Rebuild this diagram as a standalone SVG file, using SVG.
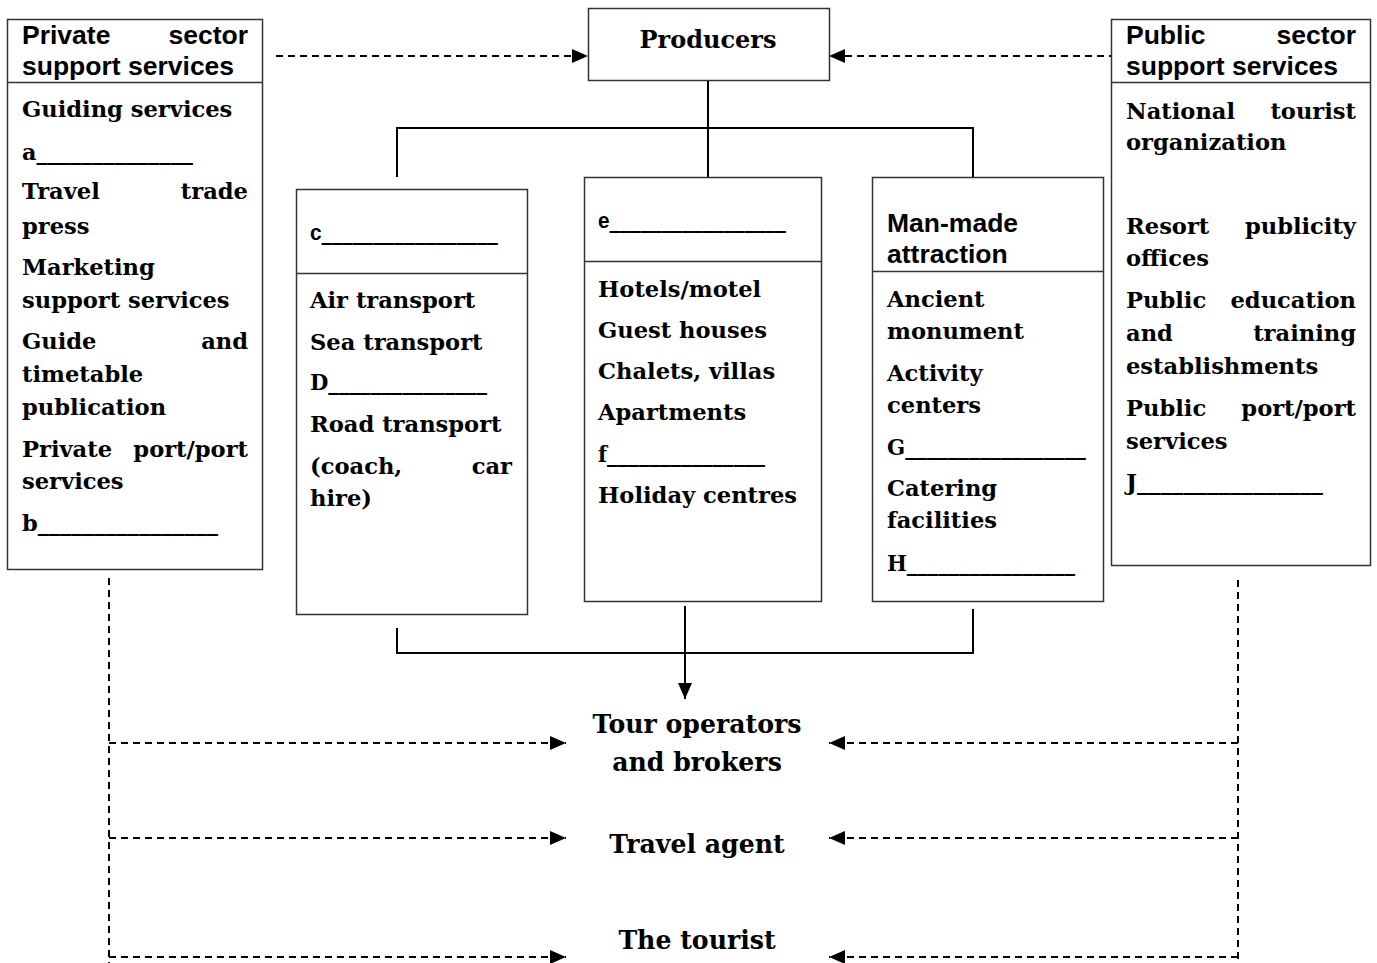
<svg xmlns="http://www.w3.org/2000/svg" width="1377" height="963" viewBox="0 0 1377 963">
<defs>
<marker id="arr" viewBox="0 0 16 14" refX="16" refY="7" markerWidth="16" markerHeight="14" markerUnits="userSpaceOnUse" orient="auto"><path d="M0,0 L16,7 L0,14 Z" fill="#000"/></marker>
<style>
.box{fill:#fff;stroke:#333;stroke-width:1.5}
.div{stroke:#333;stroke-width:1.5}
.hd{font-family:"Liberation Sans",Arial,sans-serif;font-weight:bold;font-size:26.5px;fill:#000}
.bd{font-family:"DejaVu Serif","Liberation Serif",serif;font-weight:bold;font-size:22.6px;fill:#000}
.big{font-family:"DejaVu Serif","Liberation Serif",serif;font-weight:bold;font-size:24px;fill:#000}
.big2{font-family:"DejaVu Serif","Liberation Serif",serif;font-weight:bold;font-size:25.2px;fill:#000}
.sl{font-family:"Liberation Sans",Arial,sans-serif}
.con{fill:none;stroke:#000;stroke-width:2}
.dash{fill:none;stroke:#000;stroke-width:2;stroke-dasharray:7 5}
</style>
</defs>

<g id="connectors">
<path class="con" d="M708,80 V177 M397,177 V128 H973 V177"/>
<path class="con" d="M397,628 V653 H973 V609"/>
<line class="con" x1="685" y1="606" x2="685" y2="699" marker-end="url(#arr)"/>
<line class="dash" x1="276" y1="56" x2="588" y2="56" marker-end="url(#arr)"/>
<line class="dash" x1="1116" y1="56" x2="829" y2="56" marker-end="url(#arr)"/>
<line class="dash" x1="109" y1="578" x2="109" y2="963"/>
<line class="dash" x1="1238" y1="580" x2="1238" y2="963"/>
<line class="dash" x1="109" y1="743" x2="566" y2="743" marker-end="url(#arr)"/>
<line class="dash" x1="109" y1="838" x2="566" y2="838" marker-end="url(#arr)"/>
<line class="dash" x1="109" y1="957" x2="566" y2="957" marker-end="url(#arr)"/>
<line class="dash" x1="1238" y1="743" x2="829" y2="743" marker-end="url(#arr)"/>
<line class="dash" x1="1238" y1="838" x2="829" y2="838" marker-end="url(#arr)"/>
<line class="dash" x1="1238" y1="957" x2="829" y2="957" marker-end="url(#arr)"/>
</g>

<g id="private">
<rect class="box" x="7.5" y="19.5" width="255" height="550"/>
<line class="div" x1="7.5" y1="82.5" x2="262.5" y2="82.5"/>
<text class="hd" y="44"><tspan x="22">Private</tspan><tspan x="248" text-anchor="end">sector</tspan></text>
<text class="hd" x="22" y="75">support services</text>
<text class="bd" x="22" y="117">Guiding services</text>
<text class="bd" x="22" y="160" textLength="171" lengthAdjust="spacingAndGlyphs">a______________</text>
<text class="bd" y="199"><tspan x="22">Travel</tspan><tspan x="248" text-anchor="end">trade</tspan></text>
<text class="bd" x="22" y="234">press</text>
<text class="bd" x="22" y="275">Marketing</text>
<text class="bd" x="22" y="308">support services</text>
<text class="bd" y="349"><tspan x="22">Guide</tspan><tspan x="248" text-anchor="end">and</tspan></text>
<text class="bd" x="22" y="382">timetable</text>
<text class="bd" x="22" y="415">publication</text>
<text class="bd" y="457"><tspan x="22">Private</tspan><tspan x="248" text-anchor="end">port/port</tspan></text>
<text class="bd" x="22" y="489">services</text>
<text class="bd" x="22" y="531" textLength="196" lengthAdjust="spacingAndGlyphs">b________________</text>
</g>

<g id="producers">
<rect class="box" x="588.5" y="8.5" width="241" height="72"/>
<text class="big" x="708" y="48" text-anchor="middle">Producers</text>
</g>

<g id="public">
<rect class="box" x="1111.5" y="19.5" width="259" height="546"/>
<line class="div" x1="1111.5" y1="82.5" x2="1370.5" y2="82.5"/>
<text class="hd" y="44"><tspan x="1126">Public</tspan><tspan x="1356" text-anchor="end">sector</tspan></text>
<text class="hd" x="1126" y="75">support services</text>
<text class="bd" y="119"><tspan x="1126">National</tspan><tspan x="1356" text-anchor="end">tourist</tspan></text>
<text class="bd" x="1126" y="150">organization</text>
<text class="bd" y="234"><tspan x="1126">Resort</tspan><tspan x="1356" text-anchor="end">publicity</tspan></text>
<text class="bd" x="1126" y="266">offices</text>
<text class="bd" y="308"><tspan x="1126">Public</tspan><tspan x="1356" text-anchor="end">education</tspan></text>
<text class="bd" y="341"><tspan x="1126">and</tspan><tspan x="1356" text-anchor="end">training</tspan></text>
<text class="bd" x="1126" y="374">establishments</text>
<text class="bd" y="416"><tspan x="1126">Public</tspan><tspan x="1356" text-anchor="end">port/port</tspan></text>
<text class="bd" x="1126" y="449">services</text>
<text class="bd" x="1126" y="490" textLength="197" lengthAdjust="spacingAndGlyphs">J________________</text>
</g>

<g id="transport">
<rect class="box" x="296.5" y="189.5" width="231" height="425"/>
<line class="div" x1="296.5" y1="273.5" x2="527.5" y2="273.5"/>
<text class="bd" x="310" y="240" textLength="188" lengthAdjust="spacingAndGlyphs"><tspan class="sl">c</tspan>_________________</text>
<text class="bd" x="310" y="308">Air transport</text>
<text class="bd" x="310" y="350">Sea transport</text>
<text class="bd" x="310" y="390" textLength="177" lengthAdjust="spacingAndGlyphs">D_______________</text>
<text class="bd" x="310" y="432">Road transport</text>
<text class="bd" y="474"><tspan x="310">(coach,</tspan><tspan x="512" text-anchor="end">car</tspan></text>
<text class="bd" x="310" y="506">hire)</text>
</g>

<g id="accommodation">
<rect class="box" x="584.5" y="177.5" width="237" height="424"/>
<line class="div" x1="584.5" y1="261.5" x2="821.5" y2="261.5"/>
<text class="bd" x="598" y="228" textLength="188" lengthAdjust="spacingAndGlyphs"><tspan class="sl">e</tspan>_________________</text>
<text class="bd" x="598" y="297">Hotels/motel</text>
<text class="bd" x="598" y="338">Guest houses</text>
<text class="bd" x="598" y="379">Chalets, villas</text>
<text class="bd" x="598" y="420">Apartments</text>
<text class="bd" x="598" y="462" textLength="167" lengthAdjust="spacingAndGlyphs">f_______________</text>
<text class="bd" x="598" y="503">Holiday centres</text>
</g>

<g id="attraction">
<rect class="box" x="872.5" y="177.5" width="231" height="424"/>
<line class="div" x1="872.5" y1="271.5" x2="1103.5" y2="271.5"/>
<text class="hd" x="887" y="232">Man-made</text>
<text class="hd" x="887" y="263">attraction</text>
<text class="bd" x="887" y="307">Ancient</text>
<text class="bd" x="887" y="339">monument</text>
<text class="bd" x="887" y="381">Activity</text>
<text class="bd" x="887" y="413">centers</text>
<text class="bd" x="887" y="455" textLength="199" lengthAdjust="spacingAndGlyphs">G_________________</text>
<text class="bd" x="887" y="496">Catering</text>
<text class="bd" x="887" y="528">facilities</text>
<text class="bd" x="887" y="571" textLength="188" lengthAdjust="spacingAndGlyphs">H________________</text>
</g>

<g id="tour-operators">
<text class="big2" x="697" y="733" text-anchor="middle">Tour operators</text>
<text class="big2" x="697" y="771" text-anchor="middle">and brokers</text>
</g>
<g id="travel-agent">
<text class="big2" x="697" y="853" text-anchor="middle">Travel agent</text>
</g>
<g id="tourist">
<text class="big2" x="697" y="949" text-anchor="middle">The tourist</text>
</g>
</svg>
